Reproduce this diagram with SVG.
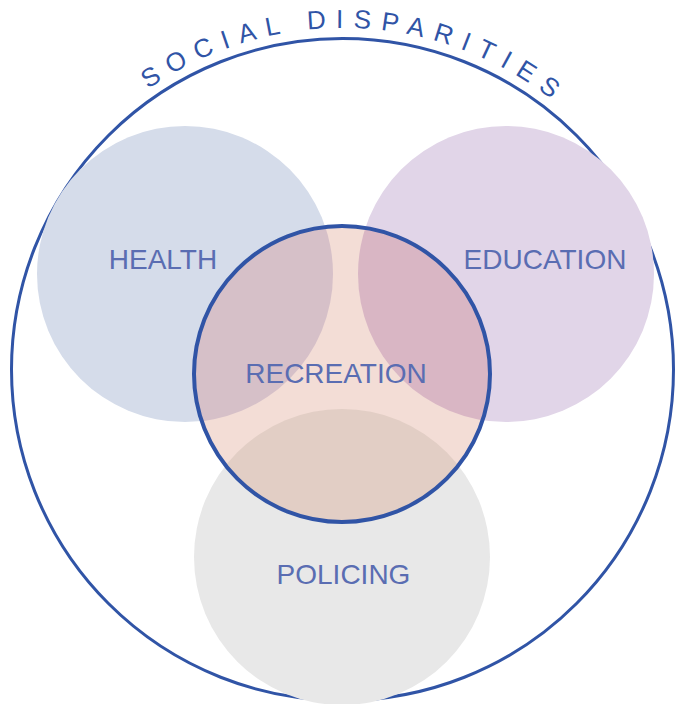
<svg xmlns="http://www.w3.org/2000/svg" width="675" height="704" viewBox="0 0 675 704">
  <style>
    .label { font-family: "Liberation Sans", Arial, sans-serif; font-size: 28px; fill: #5a6db2; text-anchor: middle; }
    .title { font-family: "Liberation Sans", Arial, sans-serif; font-size: 26px; fill: #3054a6; letter-spacing: 10px; }
    .ring { fill: none; stroke: #3054a6; }
  </style>
  <defs>
    <clipPath id="recClip">
      <circle cx="342" cy="374" r="148"/>
    </clipPath>
    <!-- baseline arc for the curved title -->
    <path id="titleArc" d="M 2 369 A 341 341 0 0 1 684 369"/>
  </defs>

  <!-- outer set -->
  <g id="social-disparities">
    <circle class="ring" cx="342.5" cy="369.5" r="331" stroke-width="3"/>
    <text class="title"><textPath href="#titleArc" startOffset="328">SOCIAL DISPARITIES</textPath></text>
  </g>

  <g id="health">
    <circle cx="185" cy="274" r="148" fill="#d5dcea"/>
    <text class="label" x="163" y="269">HEALTH</text>
  </g>

  <g id="education">
    <circle cx="506" cy="274" r="148" fill="#e1d5e8"/>
    <text class="label" x="545" y="269">EDUCATION</text>
  </g>

  <g id="policing">
    <circle cx="342" cy="557" r="148" fill="#e8e8e8"/>
    <text class="label" x="343.5" y="584">POLICING</text>
  </g>

  <g id="recreation">
    <circle cx="342" cy="374" r="148" fill="#f3ddd6"/>
    <g clip-path="url(#recClip)">
      <circle cx="185" cy="274" r="148" fill="#d6c0c8"/>
      <circle cx="506" cy="274" r="148" fill="#d9b6c4"/>
      <circle cx="342" cy="557" r="148" fill="#e2cec5"/>
    </g>
    <circle class="ring" cx="342" cy="374" r="148" stroke-width="4"/>
    <text class="label" x="336" y="383">RECREATION</text>
  </g>
</svg>
